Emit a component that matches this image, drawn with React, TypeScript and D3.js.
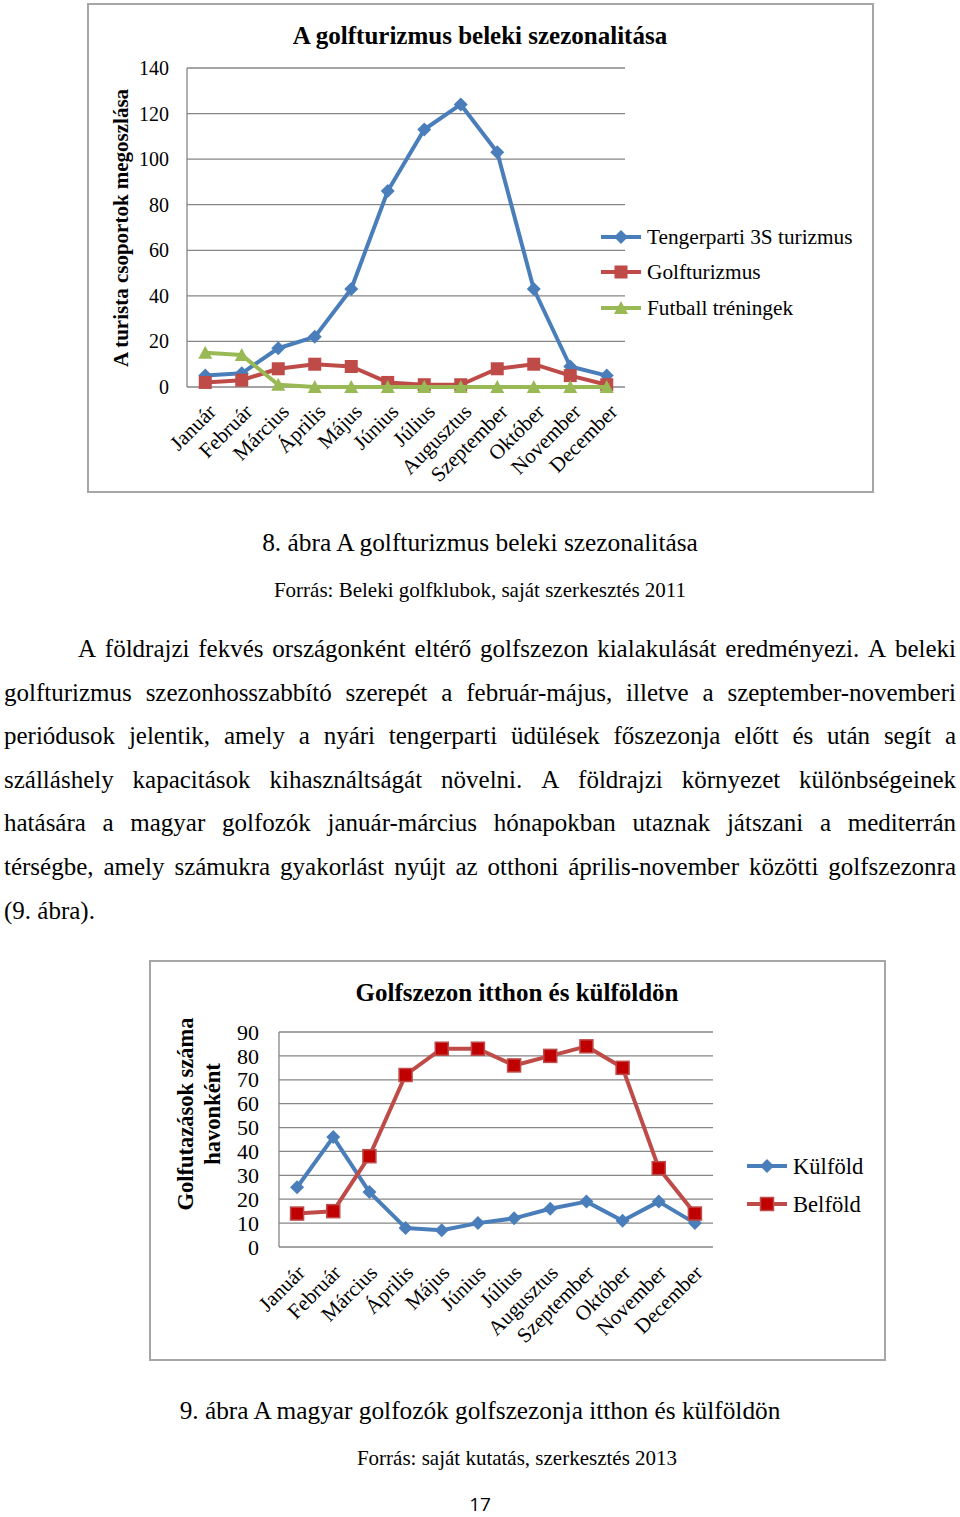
import React from 'react';
import * as d3 from 'd3';

const months = ['Január', 'Február', 'Március', 'Április', 'Május', 'Június', 'Július', 'Augusztus', 'Szeptember', 'Október', 'November', 'December'];

// Chart 1 – A golfturizmus beleki szezonalitása
const tengerparti = [5, 6, 17, 22, 43, 86, 113, 124, 103, 43, 9, 5];
const golfturizmus = [2, 3, 8, 10, 9, 2, 1, 1, 8, 10, 5, 1];
const futball = [15, 14, 1, 0, 0, 0, 0, 0, 0, 0, 0, 0];
const ticks1 = [0, 20, 40, 60, 80, 100, 120, 140];
const legend1 = ['Tengerparti 3S turizmus', 'Golfturizmus', 'Futball tréningek'];

// Chart 2 – Golfszezon itthon és külföldön
const kulfold = [25, 46, 23, 8, 7, 10, 12, 16, 19, 11, 19, 10];
const belfold = [14, 15, 38, 72, 83, 83, 76, 80, 84, 75, 33, 14];
const ticks2 = [0, 10, 20, 30, 40, 50, 60, 70, 80, 90];
const legend2 = ['Külföld', 'Belföld'];

const paragraph = [
  'A földrajzi fekvés országonként eltérő golfszezon kialakulását eredményezi. A beleki',
  'golfturizmus szezonhosszabbító szerepét a február-május, illetve a szeptember-novemberi',
  'periódusok jelentik, amely a nyári tengerparti üdülések főszezonja előtt és után segít a',
  'szálláshely kapacitások kihasználtságát növelni. A földrajzi környezet különbségeinek',
  'hatására a magyar golfozók január-március hónapokban utaznak játszani a mediterrán',
  'térségbe, amely számukra gyakorlást nyújt az otthoni április-november közötti golfszezonra',
  '(9. ábra).',
];

const BLUE = '#4A7EBB';
const RED = '#BE4B48';
const RED_DARK = '#C00000';
const GREEN = '#98B954';
const GRID = '#868686';
const SERIF = '"Liberation Serif", "Times New Roman", serif';
const PARA_FONT = 25;

let measureCtx: CanvasRenderingContext2D | null = null;
function measure(text: string, size: number): number {
  if (!measureCtx) {
    const c = document.createElement('canvas');
    measureCtx = c.getContext('2d');
  }
  if (!measureCtx) return text.length * size * 0.45;
  measureCtx.font = `${size}px "Liberation Serif"`;
  return measureCtx.measureText(text).width;
}

type MarkerKind = 'diamond' | 'square' | 'triangle';

function Marker({ kind, x, y, fill, stroke, size }: { kind: MarkerKind; x: number; y: number; fill: string; stroke?: string; size: number }) {
  const h = size / 2;
  if (kind === 'diamond') {
    return <path d={`M${x},${y - h - 1}L${x + h + 1},${y}L${x},${y + h + 1}L${x - h - 1},${y}Z`} fill={fill} stroke={stroke || 'none'} strokeWidth={1} />;
  }
  if (kind === 'square') {
    return <rect x={x - h} y={y - h} width={size} height={size} fill={fill} stroke={stroke || 'none'} strokeWidth={1.5} />;
  }
  return <path d={`M${x},${y - h - 1}L${x + h + 1},${y + h}L${x - h - 1},${y + h}Z`} fill={fill} stroke={stroke || 'none'} strokeWidth={1} />;
}

interface Series { values: number[]; color: string; marker: MarkerKind; markerFill: string; markerStroke?: string; size: number }

function LineChart({ left, right, top, bottom, max, ticks, series, tickFont, labelDx, labelDy, labelFont, tickGap }: {
  left: number; right: number; top: number; bottom: number; max: number; ticks: number[]; series: Series[]; tickFont: number; labelDx: number; labelDy: number; labelFont: number; tickGap: number;
}) {
  const x = d3.scaleBand<string>().domain(months).range([left, right]).padding(0);
  const y = d3.scaleLinear().domain([0, max]).range([bottom, top]);
  const cx = (m: string) => (x(m) as number) + x.bandwidth() / 2;
  const line = d3.line<number>().x((_, i) => cx(months[i])).y((d) => y(d));
  return (
    <g>
      {ticks.map((t) => (
        <line key={t} x1={left} x2={right} y1={y(t)} y2={y(t)} stroke={GRID} strokeWidth={1.3} />
      ))}
      <line x1={left} x2={left} y1={top} y2={bottom} stroke={GRID} strokeWidth={1.3} />
      {ticks.map((t) => (
        <text key={'l' + t} x={left - tickGap} y={y(t)} dy="0.35em" textAnchor="end" fontFamily={SERIF} fontSize={tickFont} fill="#000">{t}</text>
      ))}
      {months.map((m) => (
        <text key={m} transform={`translate(${cx(m) + labelDx},${bottom + labelDy}) rotate(-45)`} textAnchor="end" fontFamily={SERIF} fontSize={labelFont} fill="#000">{m}</text>
      ))}
      {series.map((s, si) => (
        <g key={si}>
          <path d={line(s.values) || ''} fill="none" stroke={s.color} strokeWidth={4} strokeLinejoin="round" />
          {s.values.map((v, i) => (
            <Marker key={i} kind={s.marker} x={cx(months[i])} y={y(v)} fill={s.markerFill} stroke={s.markerStroke} size={s.size} />
          ))}
        </g>
      ))}
    </g>
  );
}

function Legend({ x, ys, labels, series, fontSize }: { x: number; ys: number[]; labels: string[]; series: Series[]; fontSize: number }) {
  return (
    <g>
      {labels.map((l, i) => (
        <g key={l}>
          <line x1={x} x2={x + 40} y1={ys[i]} y2={ys[i]} stroke={series[i].color} strokeWidth={4} />
          <Marker kind={series[i].marker} x={x + 20} y={ys[i]} fill={series[i].markerFill} stroke={series[i].markerStroke} size={series[i].size} />
          <text x={x + 46} y={ys[i]} dy="0.35em" fontFamily={SERIF} fontSize={fontSize} fill="#000">{l}</text>
        </g>
      ))}
    </g>
  );
}

function JustifiedLine({ text, x0, x1, y, justify }: { text: string; x0: number; x1: number; y: number; justify: boolean }) {
  const words = text.split(' ');
  const widths = words.map((w) => measure(w, PARA_FONT));
  const total = widths.reduce((a, b) => a + b, 0);
  const space = measure(' ', PARA_FONT);
  const gap = justify && words.length > 1 ? (x1 - x0 - total) / (words.length - 1) : space;
  let cur = x0;
  return (
    <text y={y} fontFamily={SERIF} fontSize={PARA_FONT} fill="#000">
      {words.map((w, i) => {
        const xx = cur;
        cur += widths[i] + gap;
        return <tspan key={i} x={xx}>{w}</tspan>;
      })}
    </text>
  );
}

export default function App() {
  const series1: Series[] = [
    { values: tengerparti, color: BLUE, marker: 'diamond', markerFill: BLUE, size: 12 },
    { values: golfturizmus, color: RED, marker: 'square', markerFill: RED, size: 13 },
    { values: futball, color: GREEN, marker: 'triangle', markerFill: GREEN, size: 12 },
  ];
  const series2: Series[] = [
    { values: kulfold, color: BLUE, marker: 'diamond', markerFill: BLUE, size: 12 },
    { values: belfold, color: RED, marker: 'square', markerFill: RED_DARK, markerStroke: RED, size: 13 },
  ];
  const paraTop = 657;
  const lineGap = 43.6;
  return (
    <div style={{ position: 'absolute', left: 0, top: 0 }}>
      <svg width={960} height={1517} viewBox="0 0 960 1517" style={{ display: 'block', background: '#fff' }}>
        <rect x={0} y={0} width={960} height={1517} fill="#fff" />
        {/* Chart 1 */}
        <rect x={88} y={4} width={785} height={488} fill="#fff" stroke="#A6A6A6" strokeWidth={2} />
        <text x={480} y={44} textAnchor="middle" fontFamily={SERIF} fontWeight="bold" fontSize={25}>A golfturizmus beleki szezonalitása</text>
        <text transform="translate(128,228) rotate(-90)" textAnchor="middle" fontFamily={SERIF} fontWeight="bold" fontSize={21}>A turista csoportok megoszlása</text>
        <LineChart left={187} right={625} top={68} bottom={387} max={140} ticks={ticks1} series={series1} tickFont={20} tickGap={18} labelDx={12} labelDy={26} labelFont={21} />
        <Legend x={601} ys={[237, 272, 308]} labels={legend1} series={series1} fontSize={21.3} />

        {/* Captions */}
        <text x={480} y={551} textAnchor="middle" fontFamily={SERIF} fontSize={25.4}>8. ábra A golfturizmus beleki szezonalitása</text>
        <text x={480} y={597} textAnchor="middle" fontFamily={SERIF} fontSize={21}>Forrás: Beleki golfklubok, saját szerkesztés 2011</text>

        {/* Paragraph */}
        {paragraph.map((l, i) => (
          <JustifiedLine key={i} text={l} x0={i === 0 ? 78 : 4} x1={956} y={paraTop + i * lineGap} justify={i !== paragraph.length - 1} />
        ))}

        {/* Chart 2 */}
        <rect x={150} y={961} width={735} height={399} fill="#fff" stroke="#A6A6A6" strokeWidth={2} />
        <text x={517} y={1001} textAnchor="middle" fontFamily={SERIF} fontWeight="bold" fontSize={25}>Golfszezon itthon és külföldön</text>
        <text transform="translate(193,1114) rotate(-90)" textAnchor="middle" fontFamily={SERIF} fontWeight="bold" fontSize={22.5}>Golfutazások száma</text>
        <text transform="translate(220,1114) rotate(-90)" textAnchor="middle" fontFamily={SERIF} fontWeight="bold" fontSize={22.5}>havonként</text>
        <LineChart left={279} right={713} top={1032} bottom={1247} max={90} ticks={ticks2} series={series2} tickFont={22} tickGap={20} labelDx={9} labelDy={27} labelFont={21} />
        <Legend x={747} ys={[1166, 1204]} labels={legend2} series={series2} fontSize={22.6} />

        <text x={480} y={1419} textAnchor="middle" fontFamily={SERIF} fontSize={25.3}>9. ábra A magyar golfozók golfszezonja itthon és külföldön</text>
        <text x={517} y={1465} textAnchor="middle" fontFamily={SERIF} fontSize={21}>Forrás: saját kutatás, szerkesztés 2013</text>
        <text x={480} y={1511} textAnchor="middle" fontFamily='"Open Sans", "Noto Sans", sans-serif' fontSize={19}>17</text>
      </svg>
    </div>
  );
}
